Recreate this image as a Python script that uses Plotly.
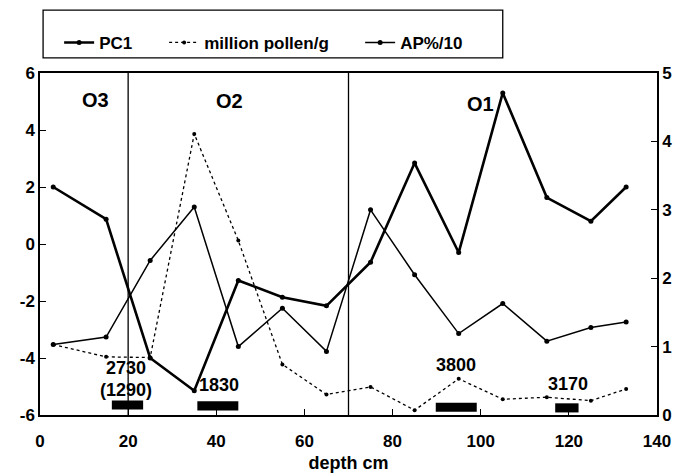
import plotly.graph_objects as go

# ---- data ----
depth = [3, 15, 25, 35, 45, 55, 65, 75, 85, 95, 105, 115, 125, 133]
pc1 = [2.0, 0.87, -4.0, -5.15, -1.28, -1.87, -2.17, -0.64, 2.84, -0.3, 5.3, 1.63, 0.8, 2.0]
pollen = [1.03, 0.85, 0.84, 4.11, 2.55, 0.74, 0.30, 0.41, 0.07, 0.53, 0.23, 0.26, 0.21, 0.38]
ap10 = [1.03, 1.14, 2.26, 3.04, 1.0, 1.56, 0.93, 3.0, 2.05, 1.19, 1.63, 1.08, 1.28, 1.36]

zone_bounds = [20, 70]
zone_names = ["O3", "O2", "O1"]
zone_label_x = [12.7, 43, 100]
zone_label_y = [5.05, 5.02, 4.93]

date_labels = ["2730", "(1290)", "1830", "3800", "3170"]
date_x = [19.4, 19.4, 40.6, 94.5, 119.7]
date_y = [-4.35, -5.13, -4.96, -4.25, -4.9]

bar_start = [16.3, 35.7, 89.8, 116.9]
bar_end = [23.4, 45.0, 99.1, 122.2]
bar_y = [-5.65, -5.68, -5.73, -5.75]

x_ticks = [0, 20, 40, 60, 80, 100, 120, 140]
y_ticks = [-6, -4, -2, 0, 2, 4, 6]
y_ticktext = ["-6", "-4", "-2", "0", "2", "4", "6"]
y2_ticks = [0, 1, 2, 3, 4, 5]

FONT = "Liberation Sans, Arial, sans-serif"
BLACK = "#000000"

fig = go.Figure()

fig.add_trace(go.Scatter(
    x=depth, y=pc1, name="PC1", mode="lines+markers",
    line=dict(color=BLACK, width=2.6),
    marker=dict(color=BLACK, size=5),
    legendwidth=60,
))
fig.add_trace(go.Scatter(
    x=depth, y=pollen, name="million pollen/g", mode="lines+markers",
    yaxis="y2",
    line=dict(color=BLACK, width=1.3, dash="3px,3px"),
    marker=dict(color=BLACK, size=4),
    legendwidth=151,
))
fig.add_trace(go.Scatter(
    x=depth, y=ap10, name="AP%/10", mode="lines+markers",
    yaxis="y2",
    line=dict(color=BLACK, width=1.5),
    marker=dict(color=BLACK, size=5),
))

# dated-sample bars
fig.add_trace(go.Bar(
    y=bar_y, x=[e - s for s, e in zip(bar_start, bar_end)], base=bar_start,
    orientation="h", width=0.32,
    marker=dict(color=BLACK, line=dict(width=0)),
    showlegend=False, hoverinfo="skip",
))

shapes = []
for b in zone_bounds:
    shapes.append(dict(type="line", xref="x", yref="paper", x0=b, x1=b, y0=0, y1=1,
                       line=dict(color=BLACK, width=1.3)))
# legend frame
shapes.append(dict(type="rect", xref="paper", yref="paper",
                   x0=0.005, x1=0.750, y0=1.044, y1=1.184,
                   line=dict(color=BLACK, width=1.3), fillcolor="rgba(0,0,0,0)"))

annotations = []
for name, x, y in zip(zone_names, zone_label_x, zone_label_y):
    annotations.append(dict(x=x, y=y, xref="x", yref="y", text=name, showarrow=False,
                            font=dict(family=FONT, size=20, color=BLACK, weight="bold")))
for t, x, y in zip(date_labels, date_x, date_y):
    annotations.append(dict(x=x, y=y, xref="x", yref="y", text=t, showarrow=False,
                            font=dict(family=FONT, size=18, color=BLACK, weight="bold")))

fig.update_layout(
    template="none",
    width=675, height=474,
    margin=dict(l=40, r=18, t=73, b=59, pad=0),
    paper_bgcolor="white", plot_bgcolor="white",
    font=dict(family=FONT, size=17, color=BLACK, weight="bold"),
    showlegend=True,
    legend=dict(orientation="h", x=0.031, xanchor="left", y=1.088, yanchor="middle",
                bgcolor="rgba(0,0,0,0)", borderwidth=0,
                font=dict(family=FONT, size=17, color=BLACK, weight="bold"),
                itemwidth=30),
    xaxis=dict(range=[0, 140], tickvals=x_ticks, ticks="inside", ticklen=6,
               tickcolor=BLACK, showline=True, linecolor=BLACK, linewidth=1.5,
               mirror=True, showgrid=False, zeroline=False,
               ticklabelstandoff=10,
               title=dict(text="depth cm", standoff=6,
                          font=dict(family=FONT, size=18, color=BLACK, weight="bold"))),
    yaxis=dict(range=[-6, 6], tickvals=y_ticks, ticktext=y_ticktext, ticks="inside",
               ticklen=6, tickcolor=BLACK, showline=True, linecolor=BLACK, linewidth=1.5,
               showgrid=False, zeroline=False),
    yaxis2=dict(range=[0, 5], tickvals=y2_ticks, overlaying="y", side="right",
                ticks="inside", ticklen=6, tickcolor=BLACK, showline=True,
                linecolor=BLACK, linewidth=1.5, showgrid=False, zeroline=False),
    shapes=shapes,
    annotations=annotations,
)

fig.write_html("out.html")
